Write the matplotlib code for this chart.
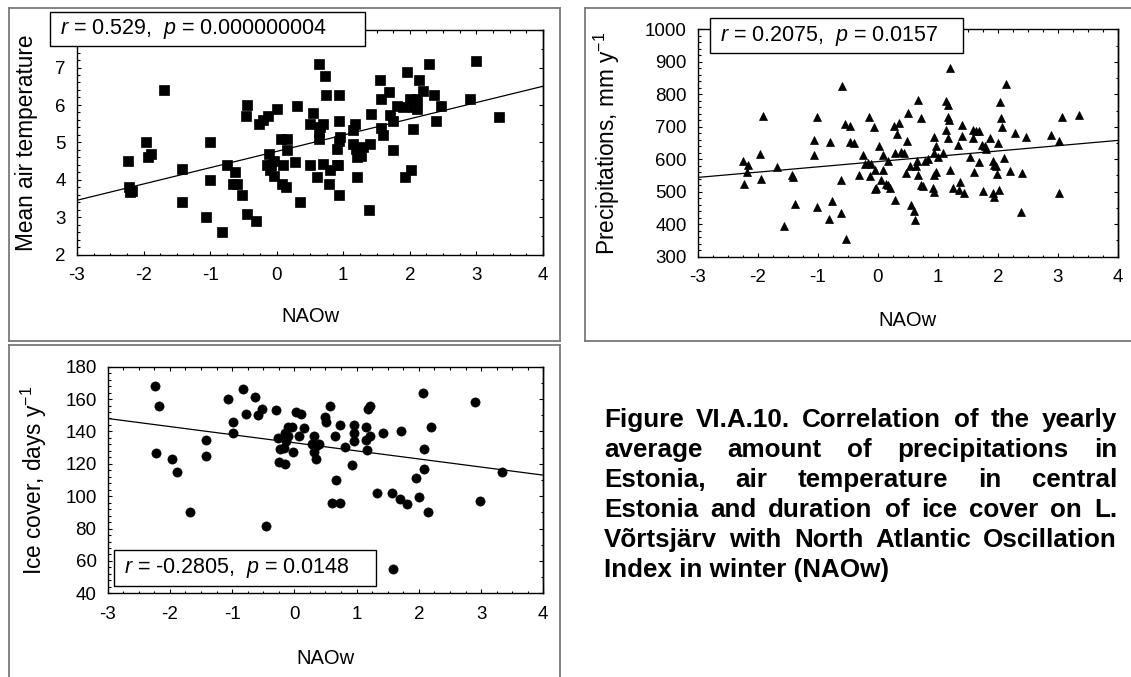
import numpy as np
import matplotlib
matplotlib.use('Agg')
import matplotlib.pyplot as plt
from matplotlib.ticker import MultipleLocator, FixedLocator
from matplotlib.patches import Rectangle
from matplotlib.lines import Line2D

plt.rcParams['font.family'] = ['Liberation Sans', 'DejaVu Sans']
plt.rcParams['mathtext.fontset'] = 'custom'
plt.rcParams['mathtext.rm'] = 'Liberation Sans'
plt.rcParams['mathtext.it'] = 'Liberation Sans:italic'
plt.rcParams['mathtext.bf'] = 'Liberation Sans:bold'
plt.rcParams['axes.unicode_minus'] = False

# ---------------- data ----------------
temp_naow = [-2.24, -2.22, -2.17, -2.2, -1.97, -1.93, -1.89, -1.69, -1.42, -1.42, -1.06, -1.0, -1.0,
             -0.82, -0.75, -0.63, -0.66, -0.59, -0.52, -0.45, -0.46, -0.45, -0.31, -0.26, -0.2, -0.13,
             0.0, -0.12, -0.15, -0.08, -0.04, -0.1, -0.04, 0.06, 0.16, 0.15, 0.1, 0.08, 0.14,
             0.28, 0.35, 0.3, 0.5, 0.61, 0.64, 0.72, 0.74, 0.93, 0.55, 0.5, 0.65, 0.7, 0.64, 0.63,
             0.94, 0.7, 0.8, 0.9, 0.92, 0.79, 0.94, 0.93, 0.9, 0.95, 1.14, 1.18, 1.14, 1.19, 1.21,
             1.26, 1.3, 1.4, 1.21, 1.38, 1.42, 1.57, 1.6, 1.55, 1.57, 1.68, 1.7, 1.74, 1.74, 1.8,
             1.92, 2.02, 1.9, 2.0, 2.05, 2.1, 2.1, 1.96, 2.05, 2.13, 2.2, 2.29, 2.37, 2.4, 2.47,
             2.9, 3.0, 3.34]
temp_val = [4.5, 3.8, 3.7, 3.68, 5.0, 4.6, 4.7, 6.4, 4.3, 3.4, 3.0, 5.0, 4.0,
            2.6, 4.4, 4.2, 3.9, 3.9, 3.6, 6.0, 5.7, 3.1, 2.9, 5.5, 5.6, 5.7,
            5.9, 4.7, 4.4, 4.4, 4.5, 4.26, 4.1, 5.1, 5.1, 4.8, 4.4, 3.88, 3.8,
            4.48, 3.4, 5.96, 4.41, 4.08, 7.1, 6.78, 6.27, 6.27, 5.78, 5.48, 5.42, 5.5, 5.27, 5.1,
            5.58, 4.43, 4.26, 4.39, 4.4, 3.88, 3.6, 5.05, 4.83, 5.14, 5.34, 5.5, 4.96, 4.83, 4.61,
            4.63, 4.88, 4.95, 4.08, 3.19, 5.76, 5.39, 5.19, 6.67, 6.16, 6.35, 5.72, 5.58, 4.79, 5.96,
            4.08, 4.27, 5.95, 6.15, 5.95, 6.15, 5.9, 6.89, 5.36, 6.67, 6.38, 7.09, 6.27, 5.57, 5.96,
            6.16, 7.18, 5.67]
temp_trend_x = [-3, 4]
temp_trend_y = [3.46, 6.5]
temp_ytick_labels = [2, 3, 4, 5, 6, 7]

precip_naow = [-2.25, -2.17, -2.18, -2.23, -1.97, -1.94, -1.92, -1.68, -1.57, -1.43, -1.41, -1.38,
               -1.02, -0.76, -0.82, -0.61, -0.53, -1.07, -1.06, -1.01, -0.79, -0.62, -0.59, -0.54,
               -0.47, -0.46, -0.39, -0.32, -0.25, -0.22, -0.17, -0.11, -0.14, -0.13, -0.06, -0.04,
               -0.03, -0.04, 0.02, 0.06, 0.08, 0.09, 0.14, 0.17, 0.21, 0.17, 0.27, 0.35, 0.28, 0.32,
               0.29, 0.38, 0.43, 0.47, 0.54, 0.49, 0.5, 0.56, 0.61, 0.62, 0.63, 0.65, 0.67, 0.67,
               0.72, 0.72, 0.75, 0.79, 0.83, 0.92, 0.94, 0.93, 0.97, 0.94, 1.0, 0.94, 0.97, 1.08,
               1.13, 1.17, 1.21, 1.17, 1.19, 1.14, 1.17, 1.21, 1.26, 1.35, 1.43, 1.37, 1.34, 1.41,
               1.41, 1.54, 1.58, 1.64, 1.69, 1.59, 1.61, 1.69, 1.75, 1.74, 1.78, 1.8, 1.86, 1.92,
               1.93, 1.96, 1.92, 1.93, 1.98, 2.0, 2.02, 2.03, 2.05, 2.07, 2.1, 2.14, 2.2, 2.29,
               2.39, 2.4, 2.47, 2.89, 3.02, 3.02, 3.06, 3.35]
precip_val = [595, 582, 562, 524, 616, 539, 733, 577, 395, 551, 546, 463,
              452, 471, 417, 435, 354, 659, 612, 729, 654, 535, 827, 709,
              702, 654, 649, 551, 613, 585, 588, 585, 731, 549, 698, 507,
              512, 567, 642, 535, 567, 613, 525, 522, 512, 595, 703, 713, 475, 678,
              620, 622, 618, 557, 580, 656, 741, 460, 440, 412, 580, 595, 782, 550,
              726, 522, 518, 595, 602, 512, 500, 670, 640, 620, 608, 552, 560, 620,
              780, 768, 882, 730, 720, 690, 665, 566, 512, 505, 495, 531, 644, 705,
              672, 608, 690, 688, 688, 664, 562, 590, 503, 645, 640, 632, 664, 595,
              583, 578, 495, 485, 555, 651, 505, 775, 726, 700, 605, 832, 565, 682,
              438, 558, 670, 676, 656, 495, 730, 735]
precip_trend_x = [-3, 4]
precip_trend_y = [544, 658]
precip_ytick_labels = [300, 400, 500, 600, 700, 800, 900, 1000]

ice_naow = [-2.24, -2.17, -2.22, -1.97, -1.89, -1.68, -1.42, -1.42, -1.07, -0.99, -0.99, -0.82,
            -0.77, -0.64, -0.59, -0.52, -0.45, -0.3, -0.27, -0.23, -0.24, -0.15, -0.15, -0.1,
            -0.17, -0.13, -0.11, -0.04, -0.03, 0.03, 0.08, 0.11, 0.16, 0.31, 0.29, 0.35, 0.4,
            0.32, 0.35, 0.5, 0.51, 0.57, 0.66, 0.67, 0.61, 0.74, 0.74, 0.81, 0.92, 0.95, 0.95,
            0.95, 1.15, 1.15, 1.17, 1.19, 1.22, 1.22, 1.33, 1.43, 1.57, 1.58, 1.7, 1.72, 1.81,
            1.96, 2.0, 2.06, 2.08, 2.09, 2.14, 2.2, 2.91, 2.99, 3.34]
ice_val = [168, 156, 126.5, 123, 115, 90, 135, 125, 160, 146, 139, 166,
           151, 161.5, 150, 154, 81.6, 153, 136, 129, 121, 120, 139, 143,
           129.6, 134, 137, 143, 127, 152, 137, 151, 142, 137, 132, 131, 132,
           127.5, 123, 148.7, 146, 156, 137, 110, 96, 96, 144, 130.6, 119, 144, 139,
           134, 143, 135, 128.5, 154, 156, 137, 102, 139, 102, 55, 98, 140.5, 95,
           111, 99.7, 163.5, 117, 129, 90, 142.5, 158, 97, 114.7]
ice_trend_x = [-3, 4]
ice_trend_y = [148, 113]
ice_ytick_labels = [40, 60, 80, 100, 120, 140, 160, 180]

xtick_labels = [-3, -2, -1, 0, 1, 2, 3, 4]

stat_texts = [r"$\it{r}$ = 0.529,  $\it{p}$ = 0.000000004",
              r"$\it{r}$ = 0.2075,  $\it{p}$ = 0.0157",
              r"$\it{r}$ = -0.2805,  $\it{p}$ = 0.0148"]
ylabels = ["Mean air temperature", "Precipitations, mm y$^{-1}$", "Ice cover, days y$^{-1}$"]
xlabel = "NAOw"
caption_lines = ["Figure VI.A.10. Correlation of the yearly",
                 "average amount of precipitations in",
                 "Estonia, air temperature in central",
                 "Estonia and duration of ice cover on L.",
                 "Võrtsjärv with North Atlantic Oscillation",
                 "Index in winter (NAOw)"]

# ---------------- layout ----------------
W, H = 1131, 677
fig = plt.figure(figsize=(W / 100, H / 100), dpi=100)

def fx(px):
    return px / W

def fy(py):
    return 1 - py / H

def rect(l, t, r, b):
    return [l / W, 1 - b / H, (r - l) / W, (b - t) / H]

TICK_FS = 13.5
LABEL_FS = 16.3
XLABEL_FS = 14.5
BOX_FS = 15.5
CAP_FS = 18.7

frame_col = '#7a7a7a'
def fline(x0, y0, x1, y1):
    fig.add_artist(Line2D([fx(x0), fx(x1)], [fy(y0), fy(y1)], transform=fig.transFigure,
                          color=frame_col, lw=1.3))
# frame 1
fline(9, 8, 560, 8); fline(9, 8, 9, 341); fline(560, 8, 560, 341); fline(9, 341, 560, 341)
# frame 2
fline(585, 8, 1131, 8); fline(585, 8, 585, 341); fline(585, 341, 1131, 341)
# frame 3
fline(9, 345, 560, 345); fline(9, 345, 9, 677); fline(560, 345, 560, 677)

panels = [
    dict(rect=(77, 30, 543, 255), x=temp_naow, y=temp_val, tx=temp_trend_x, ty=temp_trend_y,
         marker='s', ms=7.2, ylim=(2, 8), ymaj=1, yticks=temp_ytick_labels, ylab=ylabels[0],
         ylab_x=27, xlab_y=317, box=(50, 12, 365, 46), txt=stat_texts[0]),
    dict(rect=(697.7, 29.3, 1118, 256.7), x=precip_naow, y=precip_val, tx=precip_trend_x,
         ty=precip_trend_y, marker='^', ms=6.3, ylim=(300, 1000), ymaj=100, yticks=precip_ytick_labels,
         ylab=ylabels[1], ylab_x=607, xlab_y=321, box=(710, 18, 963, 53), txt=stat_texts[1]),
    dict(rect=(107.7, 366.7, 543.3, 593.3), x=ice_naow, y=ice_val, tx=ice_trend_x, ty=ice_trend_y,
         marker='o', ms=6.6, ylim=(40, 180), ymaj=20, yticks=ice_ytick_labels, ylab=ylabels[2],
         ylab_x=34, xlab_y=659, box=(114, 550, 376, 586), txt=stat_texts[2]),
]

for p in panels:
    l, t, r, b = p['rect']
    ax = fig.add_axes(rect(l, t, r, b))
    ax.plot(p['x'], p['y'], linestyle='none', marker=p['marker'], ms=p['ms'],
            mfc='black', mec='black', mew=0.5, zorder=3)
    ax.plot(p['tx'], p['ty'], color='black', lw=0.9, zorder=2)
    ax.set_xlim(-3, 4)
    ax.set_ylim(*p['ylim'])
    ax.xaxis.set_major_locator(FixedLocator(xtick_labels))
    ax.xaxis.set_minor_locator(MultipleLocator(0.25))
    ax.yaxis.set_major_locator(FixedLocator(p['yticks']))
    ax.yaxis.set_minor_locator(MultipleLocator(p['ymaj'] / 5))
    ax.tick_params(which='both', direction='in', top=True, right=False, width=0.8,
                   labelsize=TICK_FS, color='black')
    ax.tick_params(which='major', length=3.2)
    ax.tick_params(which='minor', length=1.8)
    ax.tick_params(axis='x', pad=9)
    ax.tick_params(axis='y', pad=8)
    sec = ax.secondary_yaxis('right')
    sec.yaxis.set_major_locator(MultipleLocator(p['ymaj']))
    sec.yaxis.set_minor_locator(MultipleLocator(p['ymaj'] / 2))
    sec.tick_params(which='both', direction='in', labelright=False, width=0.8)
    sec.tick_params(which='major', length=3.2)
    sec.tick_params(which='minor', length=1.8)
    for s in list(ax.spines.values()) + [sec.spines['right']]:
        s.set_linewidth(1.0)
    ax.set_ylabel(p['ylab'], fontsize=LABEL_FS, va='center')
    ax.yaxis.set_label_coords((p['ylab_x'] - l) / (r - l), 0.5)
    ax.set_xlabel(xlabel, fontsize=XLABEL_FS, va='center')
    ax.xaxis.set_label_coords(0.5, -(p['xlab_y'] - b) / (b - t))
    bl, bt, br, bb = p['box']
    fig.add_artist(Rectangle((fx(bl), fy(bb)), (br - bl) / W, (bb - bt) / H,
                             transform=fig.transFigure, fc='white', ec='black', lw=1.0, zorder=10))
    fig.text(fx(bl + 10), fy((bt + bb) / 2), p['txt'], fontsize=BOX_FS, ha='left', va='center',
             zorder=11)

# caption (justified)
cap_left, cap_right = 604, 1117
cap_base0, cap_lh = 427, 30
renderer = fig.canvas.get_renderer()
for i, line in enumerate(caption_lines):
    y = fy(cap_base0 + i * cap_lh)
    if i == len(caption_lines) - 1:
        fig.text(fx(cap_left), y, line, fontsize=CAP_FS, fontweight='bold', ha='left', va='baseline')
        continue
    words = line.split(' ')
    texts = [fig.text(0, y, w, fontsize=CAP_FS, fontweight='bold', ha='left', va='baseline')
             for w in words]
    widths = [tt.get_window_extent(renderer).width for tt in texts]
    gap = (cap_right - cap_left - sum(widths)) / (len(words) - 1)
    x = cap_left
    for tt, wd in zip(texts, widths):
        tt.set_x(fx(x))
        x += wd + gap

fig.savefig('out.png', dpi=100)
